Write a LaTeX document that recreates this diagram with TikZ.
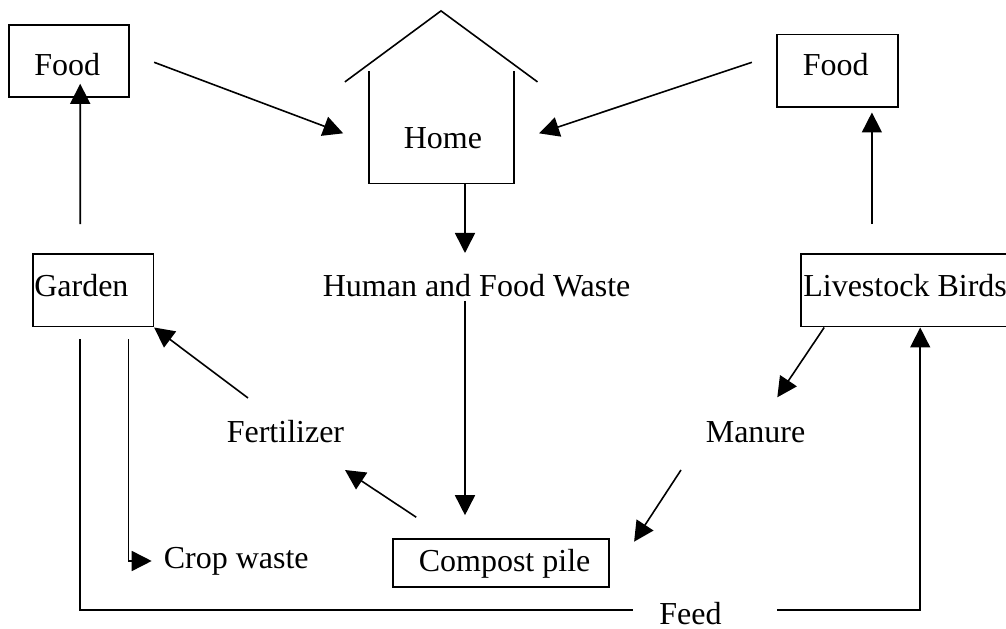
\documentclass[tikz,border=0pt]{standalone}
\usepackage{fontspec}
\setmainfont{Liberation Serif}
\usetikzlibrary{arrows.meta,calc,fit}
\begin{document}
\begin{tikzpicture}[x=0.375pt,y=-0.375pt, line width=0.6pt,
  box/.style={draw, inner sep=0pt},
  frame/.style={inner sep=0pt},
  txt/.style={anchor=base west, inner sep=0pt, font=\fontsize{12pt}{14pt}\selectfont},
  arr/.style={-{Triangle[length=7.5pt,width=7.5pt]}},
  plain/.style={-}]
\useasboundingbox (0,0) rectangle (1006,629);
\clip (0,0) rectangle (1006,629);

% boxes
\node[box, fit={(9,25) (129,97)}] (foodL) {};
\node[box, fit={(777,34.7) (897.7,107.3)}] (foodR) {};
\node[box, fit={(32.7,254.3) (153.3,326.7)}] (garden) {};
\node[box, fit={(801,254.3) (1014,326.7)}] (live) {};
\node[box, fit={(393,539) (609,587)}] (compost) {};
\node[frame, fit={(370,72) (513,182.7)}] (house) {};

% texts
\node[txt] (tFoodL) at (33.5,76) {Food};
\node[txt] (tFoodR) at (802,76) {Food};
\node[txt] (home) at (403,149) {Home};
\node[txt] (hfw) at (322,297) {Human and Food Waste};
\node[txt] (tGarden) at (33.5,297) {Garden};
\node[txt] (tLive) at (802.5,297) {Livestock Birds};
\node[txt] (fert) at (226,443) {Fertilizer};
\node[txt] (manure) at (705,443) {Manure};
\node[txt] (crop) at (163,569) {Crop waste};
\node[txt] (tCompost) at (418,572) {Compost pile};
\node[txt] (feed) at (658.5,625) {Feed};

% house outline
\draw (house.north west) |- (house.south east) -- (house.north east);
\draw ($(house.north west)+(-24.3,10.7)$) -- ($(house.north)+(-0.5,-60.3)$) -- ($(house.north east)+(23.7,10.7)$);

% connectors
\coordinate (hx) at ($(house.south)+(23.5,0)$);
\draw[arr] ($(garden.north west)+(48.3,-29.3)$) -- ($(foodL.south west)+(72,-14)$);
\draw[arr] ($(foodL.east)+(24.3,1.3)$) -- ($(house.west)+(-26,6)$);
\draw[arr] ($(foodR.west)+(-24.3,-8.7)$) -- ($(house.east)+(25.3,6)$);
\draw[arr] ($(live.north west)+(71.7,-29.3)$) -- ($(foodR.south west)+(95.7,4.4)$);
\draw[arr] (hx) -- (hx |- {$(hfw.base west)+(0,-44)$});
\draw[arr] (hx |- {$(hfw.base west)+(0,4)$}) -- (hx |- {$(compost.north)+(0,-23)$});
\draw[arr] ($(fert.base west)+(22,-45)$) -- (garden.south east);
\draw[arr] ($(compost.north west)+(24,-21)$) -- ($(fert.base west)+(119,27)$);
\draw[arr] ($(live.south west)+(24,0)$) -- ($(manure.base west)+(72.3,-45.7)$);
\draw[arr] ($(manure.base west)+(-24,27)$) -- ($(compost.east)+(24.3,-21.3)$);
\draw[arr] ($(garden.south west)+(96.6,11.6)$) |- ($(crop.base west)+(-11.3,-8)$);
\draw[plain] ($(garden.south west)+(48.3,11.6)$) |- ($(feed.base west)+(-25.5,-15)$);
\draw[arr] ($(feed.base west)+(118.5,-15)$) -| ($(live.south west)+(120,0)$);
\end{tikzpicture}
\end{document}
